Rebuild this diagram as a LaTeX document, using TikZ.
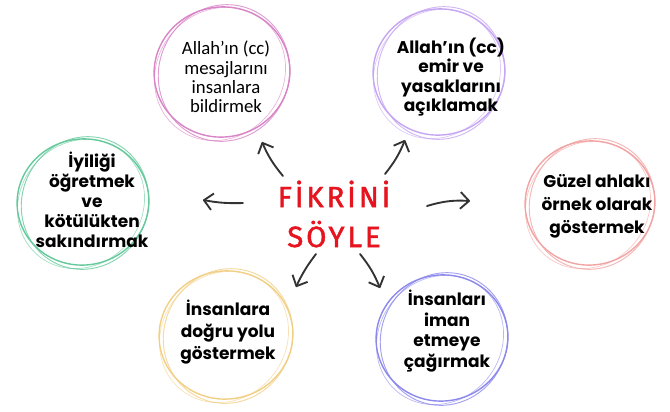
\documentclass[tikz,border=0pt]{standalone}
\usepackage{fontspec}
\setmainfont{Poppins}
\newfontfamily\calib{Carlito}
\newfontfamily\handfont[LetterSpace=10, FakeBold=1.6]{Fira Sans}
\usetikzlibrary{arrows.meta,calc}

\definecolor{pinkc}{HTML}{D884C6}
\definecolor{purplec}{HTML}{C6A6F2}
\definecolor{greenc}{HTML}{66C99C}
\definecolor{salmonc}{HTML}{F2A4A4}
\definecolor{yellowc}{HTML}{F2CF86}
\definecolor{bluec}{HTML}{8C88EC}
\definecolor{ideared}{HTML}{E5141F}
\definecolor{arrowc}{HTML}{333333}

% three loose strokes make one hand drawn ring
\newcommand{\sketchring}[3]{%
  \draw[#3, line width=1.2pt] (#1) ellipse [x radius=#2, y radius=#2-3, rotate=10];
  \draw[#3, line width=0.8pt, opacity=0.8] ($(#1)+(2,1)$) ellipse [x radius=#2-3, y radius=#2+1, rotate=-25];
  \draw[#3, line width=0.6pt, opacity=0.6] ($(#1)+(-2,2)$) ellipse [x radius=#2+1, y radius=#2-5, rotate=50];
}

\tikzset{
  txt/.style={align=center, text=black, font=\bfseries\fontsize{14.5}{#1}\selectfont},
  thin txt/.style={align=center, text=black, font=\calib\fontsize{16}{16.5}\selectfont},
  idea/.style={align=center, text=ideared, font=\handfont\fontsize{25}{34}\selectfont},
  arr/.style={line width=1.6pt, draw=arrowc, line cap=round,
    -{Straight Barb[length=2.6mm,width=5mm,line join=round]}}
}

\begin{document}
\begin{tikzpicture}[x=0.03cm, y=-0.03cm]
\useasboundingbox (0,0) rectangle (670,411);

% Draw the rings
\sketchring{222,72}{68}{pinkc}
\sketchring{439,72}{66}{purplec}
\sketchring{83,202}{66}{greenc}
\sketchring{590,203}{65}{salmonc}
\sketchring{226,335}{67}{yellowc}
\sketchring{442,338}{66}{bluec}

% Insert the texts
\node[thin txt] (bildir) at (226,77) {Allah’ın (cc)\\mesajlarını\\insanlara\\bildirmek};
\node[txt=16.5] (acikla) at (451,77) {Allah’ın (cc)\\emir ve\\yasaklarını\\açıklamak};
\node[txt=17] (ogret) at (92,200) {İyiliği\\öğretmek\\ve\\kötülükten\\sakındırmak};
\node[txt=19.5] (ornek) at (597,206) {Güzel ahlakı\\örnek olarak\\göstermek};
\node[txt=19] (yol) at (228,332) {İnsanlara\\doğru yolu\\göstermek};
\node[txt=17.5] (iman) at (447,331) {İnsanları\\iman\\etmeye\\çağırmak};
\node[idea] (fikir) at (334,214) {FİKRİNİ\\SÖYLE};

% Arrow ends
\coordinate (s1) at (283,176); \coordinate (t1) at (262,142);
\coordinate (s2) at (385,174); \coordinate (t2) at (405,140);
\coordinate (s3) at (243,203); \coordinate (t3) at (203,200);
\coordinate (s4) at (427,206); \coordinate (t4) at (470,201);
\coordinate (s5) at (316,254); \coordinate (t5) at (296,287);
\coordinate (s6) at (360,254); \coordinate (t6) at (380,288);

\draw[arr] (s1) to[bend left=8] (t1);
\draw[arr] (s2) to[bend right=8] (t2);
\draw[arr] (s3) to[bend left=6] (t3);
\draw[arr] (s4) to[bend left=10] (t4);
\draw[arr] (s5) to[bend right=6] (t5);
\draw[arr] (s6) to[bend left=8] (t6);
\end{tikzpicture}
\end{document}
